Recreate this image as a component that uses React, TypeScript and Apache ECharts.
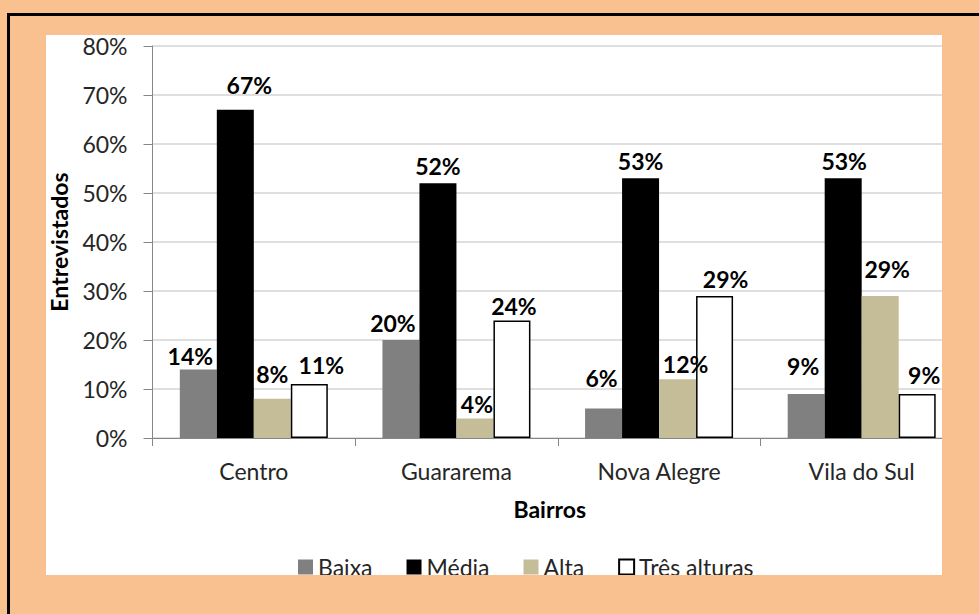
import React, { useEffect, useRef } from "react";
import * as echarts from "echarts";

const categories = ["Centro", "Guararema", "Nova Alegre", "Vila do Sul"];
const seriesNames = ["Baixa", "Média", "Alta", "Três alturas"];
const baixa = [14, 20, 6, 9];
const media = [67, 52, 53, 53];
const alta = [8, 4, 12, 29];
const tresAlturas = [11, 24, 29, 9];
const yTicks = { min: 0, max: 80, interval: 10 };

// label nudges [dx, dy] per series / category (layout only)
const labelNudge: number[][][] = [
  [[-8, 4], [-8, 0], [-2, -13], [-3, -10]],
  [[14, -7], [0, 0], [0, 0], [1, 0]],
  [[0, -7], [2, 3], [8, 2], [7, -9]],
  [[12, -2], [2, 3], [11, 1], [7, -1]],
];

const FONT = "Lato";

export default function App() {
  const ref = useRef<HTMLDivElement>(null);
  useEffect(() => {
    if (!ref.current) return;
    const chart = echarts.init(ref.current, null, { renderer: "svg" });
    const colors = ["#808080", "#000000", "#C4BD97", "#FFFFFF"];
    const values = [baixa, media, alta, tresAlturas];
    chart.setOption({
      animation: false,
      textStyle: { fontFamily: FONT },
      grid: { left: 106.5, top: 11, width: 810.5, height: 392, outerBoundsMode: "none", containLabel: false },
      legend: {
        left: 247,
        top: 515,
        icon: "rect",
        itemWidth: 15,
        itemHeight: 15,
        itemGap: 34,
        data: seriesNames,
        textStyle: { fontFamily: FONT, fontSize: 23, color: "#262626", lineHeight: 24 },
      },
      xAxis: {
        type: "category",
        data: categories,
        name: "Bairros",
        nameLocation: "middle",
        nameGap: 59,
        nameTextStyle: { fontFamily: FONT, fontSize: 23, fontWeight: "bold", color: "#000", padding: [0, 16, 0, 0] },
        axisLine: { lineStyle: { color: "#868686", width: 1 } },
        axisTick: { show: true, length: 8, lineStyle: { color: "#868686" } },
        axisLabel: { margin: 21, fontFamily: FONT, fontSize: 23, color: "#262626" },
      },
      yAxis: {
        type: "value",
        min: yTicks.min,
        max: yTicks.max,
        interval: yTicks.interval,
        name: "Entrevistados",
        nameLocation: "middle",
        nameRotate: 90,
        nameGap: 82,
        nameTextStyle: { fontFamily: FONT, fontSize: 23, fontWeight: "bold", color: "#000", lineHeight: 24 },
        axisLine: { show: true, lineStyle: { color: "#868686", width: 1 } },
        axisTick: { show: true, length: 9, inside: false, lineStyle: { color: "#868686" } },
        axisLabel: { margin: 25, fontFamily: FONT, fontSize: 23, lineHeight: 20, color: "#262626", formatter: "{value}%" },
        splitLine: { lineStyle: { color: "#D4D4D4", width: 1.5 } },
      },
      series: values.map((vals, si) => ({
        name: seriesNames[si],
        type: "bar",
        barWidth: 37,
        barGap: "0%",
        itemStyle: {
          color: colors[si],
          borderColor: si === 3 ? "#000" : colors[si],
          borderWidth: si === 3 ? 1.5 : 0,
        },
        data: vals.map((v, ci) => ({
          value: v,
          label: { offset: labelNudge[si][ci] },
        })),
        label: {
          show: true,
          position: "top",
          distance: 6,
          fontFamily: FONT,
          fontSize: 23,
          fontWeight: "bold",
          color: "#000",
          formatter: "{c}%",
        },
      })),
    });
    return () => chart.dispose();
  }, []);

  return (
    <div
      style={{
        position: "absolute",
        left: 0,
        top: 0,
        width: 979,
        height: 614,
        background: "#F9C190",
        overflow: "hidden",
      }}
    >
      <div
        style={{
          position: "absolute",
          left: 7,
          top: 13,
          width: 1100,
          height: 800,
          border: "3px solid #000",
        }}
      />
      <div
        style={{
          position: "absolute",
          left: 46,
          top: 35,
          width: 896,
          height: 540,
          background: "#FFFFFF",
          overflow: "hidden",
        }}
      >
        <div ref={ref} style={{ width: 940, height: 580 }} />
      </div>
    </div>
  );
}
